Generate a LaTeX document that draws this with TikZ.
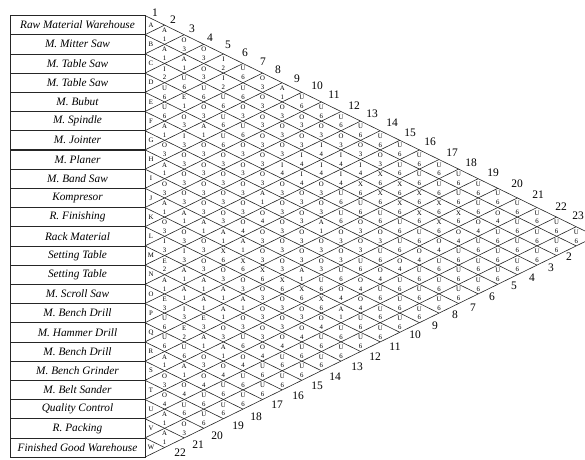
\documentclass[tikz,border=0pt]{standalone}
\usepackage{fontspec}
\setmainfont{Liberation Serif}
\begin{document}
\begin{tikzpicture}[x=1pt, y=-1pt, every node/.style={inner sep=0pt},
    gridline/.style={line width=0.6pt, black!85},
    sepline/.style={line width=1.2pt, black!85},
    dept/.style={font=\fontsize{11.3}{13}\selectfont\itshape},
    rowid/.style={font=\fontsize{6.8}{7}\selectfont},
    cell/.style={font=\fontsize{6.8}{7}\selectfont},
    idx/.style={font=\fontsize{11.5}{13}\selectfont}]
  \def\xo{145} \def\yo{15.5} \def\rh{19.2} \def\hw{19.6}
  \useasboundingbox (0,0) rectangle (585,459);
  % corner points of the chart
  \foreach \k in {0,...,23} {
    \coordinate (L\k) at (\xo, \yo+\k*\rh);
    \coordinate (T\k) at (\xo+\k*\hw, \yo+\k*\rh/2);
    \coordinate (D\k) at (\xo+\k*\hw, \yo+23*\rh-\k*\rh/2);
  }
  % department table
  \draw[gridline] (10,\yo) rectangle (L23);
  \foreach \k in {1,...,22}
    \draw[gridline] (10,\yo+\k*\rh) -- (L\k);
  \foreach \k in {7,11,18}
    \draw[sepline] (10,\yo+\k*\rh) -- (L\k);
  \foreach \name [count=\rw] in {Raw Material Warehouse, M. Mitter Saw, M. Table Saw,
      M. Table Saw, M. Bubut, M. Spindle, M. Jointer, M. Planer, M. Band Saw,
      Kompresor, R. Finishing, Rack Material, Setting Table, Setting Table,
      M. Scroll Saw, M. Bench Drill, M. Hammer Drill, M. Bench Drill,
      M. Bench Grinder, M. Belt Sander, Quality Control, R. Packing,
      Finished Good Warehouse}
    \node[dept] (dept\rw) at (77.5, \yo+\rw*\rh-\rh/2) {\name};
  \foreach \id [count=\rw] in {A,B,C,D,E,F,G,H,I,J,K,L,M,N,O,P,Q,R,S,T,U,V,W}
    \node[rowid] (id\rw) at (151, \yo+\rw*\rh-\rh/2) {\id};
  % diagonal grid
  \foreach \k in {0,...,23} {
    \pgfmathtruncatemacro\m{23-\k}
    \draw[gridline] (L\k) -- (D\m);
    \draw[gridline] (L\k) -- (T\k);
  }
  % closeness ratings: letter above, reason below
  \foreach \ri/\row in {
      1/{A/1,O/3,O/3,I/2,U/6,O/3,A/1,U/6,U/6,U/6,U/6,U/6,U/6,U/6,U/6,U/6,U/6,U/6,U/6,U/6,U/6,U/6},
      2/{A/1,A/1,O/3,I/2,U/6,O/3,O/3,O/3,O/3,O/3,O/3,O/3,U/6,U/6,U/6,U/6,U/6,O/4,U/6,U/6,U/6},
      3/{I/2,U/6,U/6,U/6,O/3,O/3,O/3,O/3,I/4,I/4,I/4,X/6,X/6,X/6,X/6,X/6,O/4,U/6,U/6,U/6},
      4/{U/6,E/1,O/3,U/6,U/6,O/3,O/3,I/4,I/4,I/4,X/6,X/6,X/6,X/6,X/6,O/4,U/6,U/6,U/6},
      5/{U/6,O/3,A/1,U/6,O/3,O/3,I/4,I/4,O/3,U/6,U/6,U/6,U/6,U/6,O/4,U/6,U/6,U/6},
      6/{A/1,I/3,O/3,O/3,O/3,O/3,O/3,O/3,O/3,U/6,O/3,O/3,U/6,O/4,U/6,U/6,U/6},
      7/{O/3,O/3,O/3,O/3,O/3,A/1,O/3,O/3,A/1,O/3,O/3,U/6,O/4,U/6,U/6,U/6},
      8/{A/1,O/3,O/3,O/3,O/3,O/4,O/3,O/3,O/3,O/3,U/6,O/4,U/6,U/6,U/6},
      9/{O/3,O/3,O/3,O/3,O/4,O/3,O/3,O/3,O/3,U/6,O/4,U/6,U/6,U/6},
      10/{A/1,A/1,A/1,A/1,A/1,O/3,O/3,A/1,U/6,O/4,O/4,U/6,U/6},
      11/{O/3,O/3,O/3,X/6,X/6,X/6,X/6,X/6,X/6,A/1,U/6,U/6},
      12/{I/3,I/3,O/3,O/3,O/3,O/3,O/3,O/3,O/4,U/6,U/6},
      13/{E/2,A/1,A/1,A/1,A/1,O/3,O/3,O/4,U/6,U/6},
      14/{A/1,A/1,A/1,A/1,O/3,O/3,O/4,U/6,U/6},
      15/{E/3,I/3,E/3,O/3,U/6,O/4,U/6,U/6},
      16/{U/6,E/2,A/1,A/1,O/4,U/6,U/6},
      17/{U/6,U/6,O/3,O/4,U/6,U/6},
      18/{A/1,A/1,O/4,U/6,U/6},
      19/{O/3,O/4,U/6,U/6},
      20/{O/4,U/6,U/6},
      21/{A/1,O/3},
      22/{A/1}} {
    \foreach \lt/\nm [count=\col] in \row {
      \pgfmathtruncatemacro\cj{\ri+\col}
      \coordinate (c\ri-\cj) at (\xo+\col*\hw, \yo+\ri*\rh+\col*\rh/2-\rh/2);
      \node[cell] (l\ri-\cj) at ([yshift=4.3pt]c\ri-\cj) {\lt};
      \node[cell] (n\ri-\cj) at ([yshift=-4.5pt]c\ri-\cj) {\nm};
    }
  }
  % department numbers along the two edges
  \foreach \lbl/\x/\y in {1/155/13, 2/173/20, 3/192/29, 4/210/38, 5/228/45, 6/245/53,
      7/263/62, 8/278/70, 9/297/79, 10/317/86, 11/334/95, 12/354/106, 13/372/114,
      14/392/123, 15/410/133, 16/430/142, 17/452/153, 18/471/163, 19/493/173,
      20/517/184, 21/538/195, 22/561/207, 23/578/216}
    \node[idx] (top\lbl) at (\x,\y) {\lbl};
  \foreach \lbl/\x/\y in {22/180/453, 21/198/445, 20/217/436, 19/238/426, 18/256/417,
      17/277/405, 16/298/396, 15/317/386, 14/335/377, 13/357/367, 12/375/357,
      11/395/347, 10/415/335, 9/435/326, 8/455/315, 7/473/308, 6/492/297,
      5/514/286, 4/532/278, 3/551/268, 2/569/257}
    \node[idx] (bot\lbl) at (\x,\y) {\lbl};
\end{tikzpicture}
\end{document}
